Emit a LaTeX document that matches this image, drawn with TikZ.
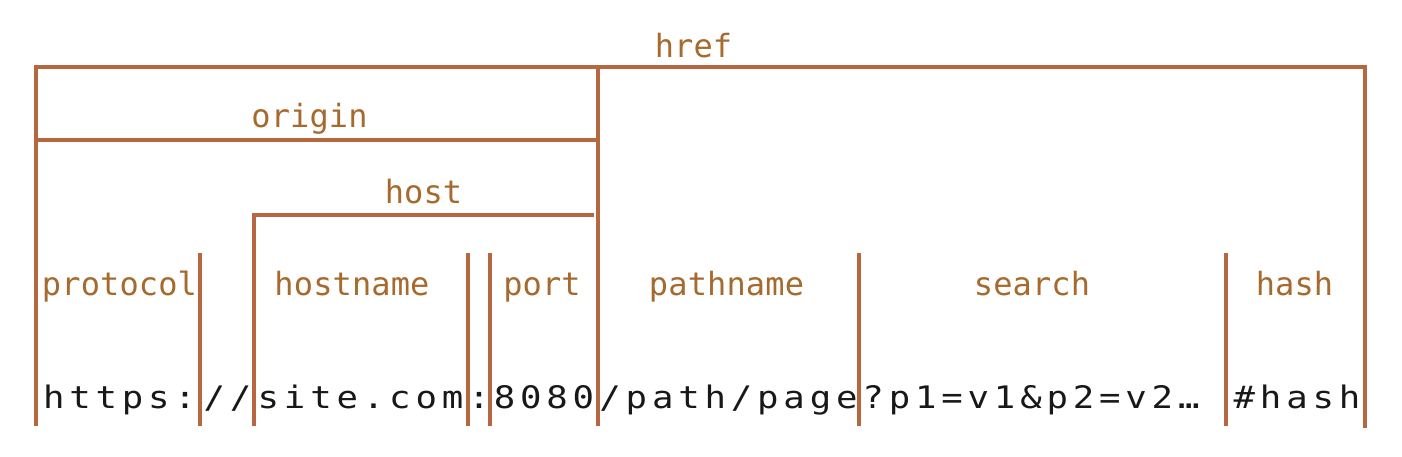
\documentclass[tikz,border=0pt]{standalone}
\usepackage{fontspec}
\newfontfamily\monof{DejaVu Sans Mono}
\newfontfamily\urlf[FakeStretch=1.15]{DejaVu Sans Mono}
\definecolor{linec}{RGB}{183,103,63}
\definecolor{labc}{RGB}{166,106,46}
\definecolor{urlc}{RGB}{24,24,24}
\makeatletter
\newcommand\spacedtext[2]{\@tfor\sp@c:=#2\do{\makebox[#1][c]{\sp@c}}}
\makeatother
\tikzset{
  bar/.style={draw=linec, line width=3.3pt},
  lab/.style={text=labc, font={\monof\fontsize{32pt}{32pt}\selectfont}, inner sep=0pt, anchor=base},
  urltxt/.style={text=urlc, font={\urlf\fontsize{31pt}{31pt}\selectfont}, inner sep=0pt, anchor=base}
}
\begin{document}
\begin{tikzpicture}[x=1pt,y=-1pt]
\useasboundingbox (0,0) rectangle (1402,456);
% brackets
\draw[bar] (36,426) -- (36,67) -- (1365,67) -- (1365,428);
\draw[bar] (36,140) -- (598,140);
\draw[bar] (598,67) -- (598,426);
\draw[bar] (254,426) -- (254,215) -- (594,215);
\draw[bar] (200,253) -- (200,426);
\draw[bar] (468,253) -- (468,426);
\draw[bar] (490,253) -- (490,426);
\draw[bar] (859,253) -- (859,426);
\draw[bar] (1226,253) -- (1226,426);
% labels
\node[lab] (href) at (693.5,57) {\spacedtext{19.4pt}{href}};
\node[lab] (origin) at (309.5,127) {\spacedtext{19.4pt}{origin}};
\node[lab] (host) at (423.5,203) {\spacedtext{19.4pt}{host}};
\node[lab] (protocol) at (119.5,295) {\spacedtext{19.4pt}{protocol}};
\node[lab] (hostname) at (352,295) {\spacedtext{19.4pt}{hostname}};
\node[lab] (port) at (542,295) {\spacedtext{19.4pt}{port}};
\node[lab] (pathname) at (726.5,295) {\spacedtext{19.4pt}{pathname}};
\node[lab] (search) at (1032,295) {\spacedtext{19.4pt}{search}};
\node[lab] (hash) at (1294.5,295) {\spacedtext{19.4pt}{hash}};
% url parts
\node[urltxt] (u1) at (119.5,408) {\spacedtext{26.3pt}{https:}};
\node[urltxt] (u2) at (227.5,408) {\spacedtext{26.3pt}{//}};
\node[urltxt] (u3) at (360.5,408) {\spacedtext{26.3pt}{site.com}};
\node[urltxt] (u4) at (479,408) {\spacedtext{26.3pt}{:}};
\node[urltxt] (u5) at (544,408) {\spacedtext{26.3pt}{8080}};
\node[urltxt] (u6) at (728.5,408) {\spacedtext{26.3pt}{/path/page}};
\node[urltxt] (u7) at (1031,408) {\spacedtext{26.3pt}{?p1=v1\&p2=v2…}};
\node[urltxt] (u8) at (1297,408) {\spacedtext{26.3pt}{\#hash}};
\end{tikzpicture}
\end{document}
